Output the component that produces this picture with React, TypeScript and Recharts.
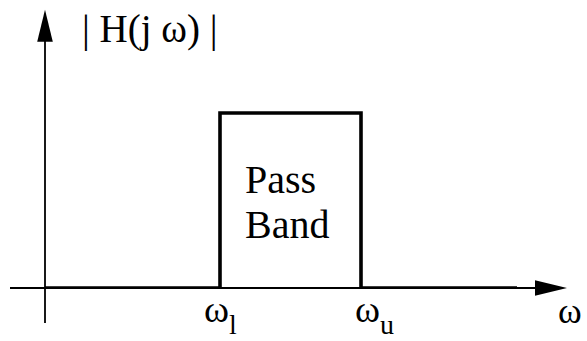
import React from 'react';
import { LineChart, Line, XAxis, YAxis, ReferenceLine, ReferenceArea } from 'recharts';

// ---- data ----
const omegaPoints = [0, 3.5, 3.5, 6.32, 6.32, 9.44];
const magnitudeValues = [0, 0, 1, 1, 0, 0];
const bandEdges = [3.5, 6.32];
const bandEdgeSubscripts = ['l', 'u'];
const axisSymbol = 'ω';
const yAxisTitle = '| H(j ω) |';
const bandLabelLines = ['Pass', 'Band'];
const xRange = [-0.7, 10.44];
const yAxisExtent = [-0.2, 1.59];

const data = omegaPoints.map((w, i) => ({ w, mag: magnitudeValues[i] }));

// ---- styles ----
const FONT = 'Tinos';
const INK = '#000';
const tickDx = [-16, -6];

const makeArrow = (label: any) => (props: any) => {
  const { x1, y1, x2, y2 } = props;
  const dx = x2 - x1;
  const dy = y2 - y1;
  const len = Math.hypot(dx, dy) || 1;
  const ux = dx / len;
  const uy = dy / len;
  const px = -uy;
  const py = ux;
  const head = 32;
  const half = 7.8;
  const bx = x2 - ux * head;
  const by = y2 - uy * head;
  return (
    <g>
      <line x1={x1} y1={y1} x2={bx + ux} y2={by + uy} stroke={INK} strokeWidth={1.8} />
      <polygon
        points={`${x2},${y2} ${bx + px * half},${by + py * half} ${bx - px * half},${by - py * half}`}
        fill={INK}
      />
      {label(x2, y2)}
    </g>
  );
};

const yArrow = makeArrow((tx: number, ty: number) => (
  <text x={tx + 37} y={ty + 32} fontFamily={FONT} fontSize={39} fill={INK}>
    {yAxisTitle}
  </text>
));

const xArrow = makeArrow((tx: number, ty: number) => (
  <text x={tx - 9} y={ty + 35} fontFamily={FONT} fontSize={36} fill={INK}>
    {axisSymbol}
  </text>
));

const EdgeTick = (props: any) => {
  const { x, y, index } = props;
  return (
    <text x={x + tickDx[index]} y={y + 26} fontFamily={FONT} fontSize={38} fill={INK}>
      {axisSymbol}
      <tspan fontSize={28} dy={12}>
        {bandEdgeSubscripts[index]}
      </tspan>
    </text>
  );
};

const renderPassBand = (props: any) => {
  const vb = props.viewBox || { x: 0, y: 0 };
  return (
    <g>
      {bandLabelLines.map((t, i) => (
        <text key={t} x={vb.x + 25} y={vb.y + 80 + i * 45} fontFamily={FONT} fontSize={40} fill={INK}>
          {t}
        </text>
      ))}
    </g>
  );
};

export default function App() {
  return (
    <div style={{ position: 'absolute', left: 0, top: 0, width: 587, height: 341, background: '#fff' }}>
      <LineChart width={587} height={341} data={data} margin={{ top: 8, right: 20, left: 10, bottom: 0 }}>
        <XAxis
          type="number"
          dataKey="w"
          domain={xRange}
          allowDataOverflow
          ticks={bandEdges}
          interval={0}
          axisLine={false}
          tickLine={false}
          height={53}
          tick={EdgeTick}
        />
        <YAxis type="number" domain={[0, 1.6]} allowDataOverflow hide />
        <ReferenceArea
          x1={bandEdges[0]}
          x2={bandEdges[1]}
          y1={0}
          y2={1}
          fill="none"
          stroke="none"
          label={renderPassBand}
        />
        <ReferenceLine
          segment={[{ x: xRange[0], y: 0 }, { x: xRange[1], y: 0 }]}
          ifOverflow="visible"
          shape={xArrow}
        />
        <ReferenceLine
          segment={[{ x: 0, y: yAxisExtent[0] }, { x: 0, y: yAxisExtent[1] }]}
          ifOverflow="visible"
          shape={yArrow}
        />
        <Line
          type="linear"
          dataKey="mag"
          stroke={INK}
          strokeWidth={3.6}
          strokeLinejoin="miter"
          dot={false}
          activeDot={false}
          isAnimationActive={false}
        />
      </LineChart>
    </div>
  );
}
